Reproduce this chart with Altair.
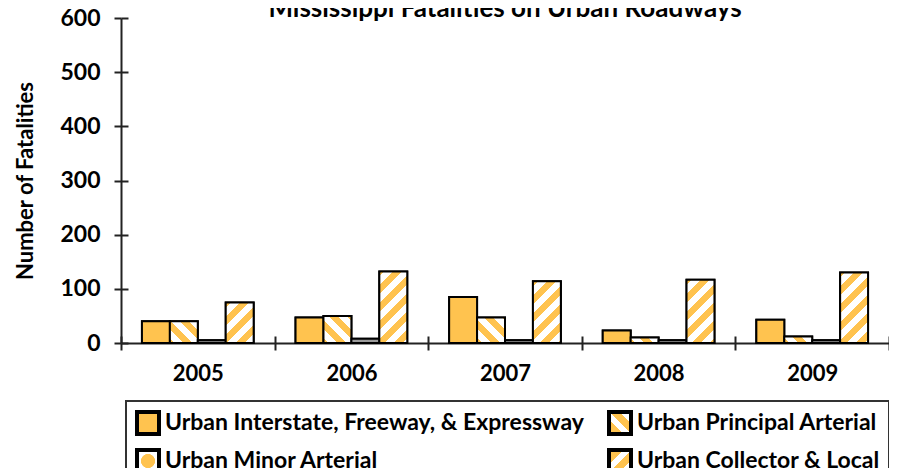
import altair as alt

years = ["2005", "2006", "2007", "2008", "2009"]
series = [
    "Urban Interstate, Freeway, & Expressway",
    "Urban Principal Arterial",
    "Urban Minor Arterial",
    "Urban Collector & Local",
]
interstate = [40, 47, 85, 23, 43]
principal = [40, 50, 47, 10, 12]
minor = [5, 8, 5, 5, 5]
collector = [75, 132, 114, 117, 130]

ORANGE = "#FFC34F"
WHITE = "#FFFFFF"
FONT = "Lato"
PLOT_W, PLOT_H = 768, 325
Y_MAX = 600
OFFSET_PAD = 0.75
BAR_W = PLOT_W / len(years) / (len(series) + 2 * OFFSET_PAD)
PERIOD = 18.0


def stripe_stops(L, phase, first=ORANGE):
    half = PERIOD / 2
    c = first
    stops = [{"offset": 0, "color": c}]
    b = phase
    while b < L:
        if b > 0:
            stops.append({"offset": round(b / L, 4), "color": c})
            c = WHITE if c == ORANGE else ORANGE
            stops.append({"offset": round(b / L, 4), "color": c})
        b += half
    stops.append({"offset": 1, "color": c})
    return stops


def hatch(w, h, kind, phase):
    L = w + h
    den = w * w + h * h
    a = round(L * w / den, 4)
    b = round(L * h / den, 4)
    if kind == "slash":
        return {"gradient": "linear", "x1": 0, "y1": 0, "x2": a, "y2": b,
                "stops": stripe_stops(L, phase)}
    return {"gradient": "linear", "x1": 0, "y1": 1, "x2": a, "y2": round(1 - b, 4),
            "stops": stripe_stops(L, phase)}


DOT = {"gradient": "radial", "x1": 0.5, "y1": 0.5, "r1": 0, "x2": 0.5, "y2": 0.5, "r2": 0.5,
       "stops": [{"offset": 0, "color": ORANGE}, {"offset": 0.62, "color": ORANGE},
                 {"offset": 0.66, "color": WHITE}, {"offset": 1, "color": WHITE}]}


def to_expr(v):
    if isinstance(v, dict):
        return "{" + ", ".join(f"{k}: {to_expr(x)}" for k, x in v.items()) + "}"
    if isinstance(v, list):
        return "[" + ", ".join(to_expr(x) for x in v) + "]"
    if isinstance(v, str):
        return "'" + v + "'"
    return repr(v)


def bar_fill(s_idx, value):
    h = value * PLOT_H / Y_MAX
    if s_idx == 0:
        return ORANGE
    if s_idx == 1:
        return hatch(BAR_W, h, "back", 5)
    if s_idx == 2:
        return "#9c9c9c"
    return hatch(BAR_W, h, "slash", 5)


records = []
for s_idx, (name, vals) in enumerate(zip(series, [interstate, principal, minor, collector])):
    for yr, v in zip(years, vals):
        records.append({"year": yr, "series": name, "value": v, "grad": bar_fill(s_idx, v)})

LEG = 22
legend_fills = [
    {"expr": to_expr(ORANGE)},
    {"expr": to_expr(hatch(LEG, LEG, "back", 14))},
    {"expr": to_expr(DOT)},
    {"expr": to_expr(hatch(LEG, LEG, "slash", 14))},
]
# legend entries are laid out column by column
legend_order = [series[0], series[2], series[1], series[3]]

data = alt.Data(values=records)

x_enc = alt.X("year:N", sort=years, scale=alt.Scale(paddingInner=0, paddingOuter=0))
xo_enc = alt.XOffset("series:N", sort=series,
                     scale=alt.Scale(domain=series, paddingInner=0, paddingOuter=OFFSET_PAD))
y_scale = alt.Scale(domain=[0, Y_MAX], nice=False)

base_layer = alt.Chart(data).mark_bar(stroke="black").encode(
    x=x_enc.axis(alt.Axis(title=None, orient="bottom", tickBand="extent", tickSize=7,
                          tickWidth=2, tickColor="#222", domainColor="#222", domainWidth=2,
                          labelFont=FONT, labelFontSize=22, labelFontWeight="bold",
                          labelColor="black", labelPadding=13, labelAngle=0)),
    xOffset=xo_enc,
    y=alt.Y("value:Q", stack=None, scale=y_scale,
            axis=alt.Axis(title="Number of Fatalities", orient="left",
                          values=[0, 100, 200, 300, 400, 500, 600], tickSize=7,
                          tickWidth=2, tickColor="#222", domainColor="#222", domainWidth=2,
                          grid=False, labelFont=FONT, labelFontSize=23,
                          labelFontWeight="bold", labelColor="black", labelPadding=14,
                          titleFont=FONT, titleFontSize=22, titleFontWeight="bold",
                          titleColor="black", titlePadding=22)),
    fill=alt.Fill("series:N", sort=series,
                  scale=alt.Scale(domain=series, range=legend_fills),
                  legend=alt.Legend(title=None, orient="none", legendX=5, legendY=383,
                                    values=legend_order,
                                    columns=2, columnPadding=17, rowPadding=0,
                                    padding=9, strokeColor="#333",
                                    symbolType="square", symbolSize=LEG * LEG,
                                    symbolStrokeWidth=4, symbolStrokeColor="black",
                                    labelFont=FONT, labelFontSize=23,
                                    labelFontWeight="bold", labelColor="black",
                                    labelLimit=1000, labelOffset=4)),
    strokeWidth=alt.value(2),
)

top_layer = alt.Chart(data).mark_bar(stroke="black", strokeWidth=2).encode(
    x=x_enc.axis(alt.Axis(title=None, orient="bottom", tickBand="extent", tickSize=7,
                          tickWidth=2, tickColor="#222", domain=False, labels=False,
                          offset=-7)),
    xOffset=xo_enc,
    y=alt.Y("value:Q", stack=None, scale=y_scale,
            axis=alt.Axis(title=None, orient="left", values=[0, 100, 200, 300, 400, 500, 600],
                          tickSize=7, tickWidth=2, tickColor="#222", domain=False,
                          labels=False, grid=False, offset=-7)),
    fill=alt.Fill("grad:N", scale=None, legend=None),
)

chart = alt.layer(base_layer, top_layer).resolve_axis(
    x="independent", y="independent"
).properties(
    width=PLOT_W,
    height=PLOT_H,
    title=alt.TitleParams("Mississippi Fatalities on Urban Roadways", font=FONT,
                          fontSize=26, fontWeight="bold", color="black",
                          anchor="middle", frame="group", baseline="alphabetic",
                          offset=0, dy=36),
    autosize=alt.AutoSizeParams(type="none"),
    padding={"left": 113, "top": 10, "right": 0, "bottom": 125},
).configure_view(stroke=None).configure_legend(strokeWidth=2)

chart.save("out.html", embed_options={"renderer": "svg", "actions": False})
